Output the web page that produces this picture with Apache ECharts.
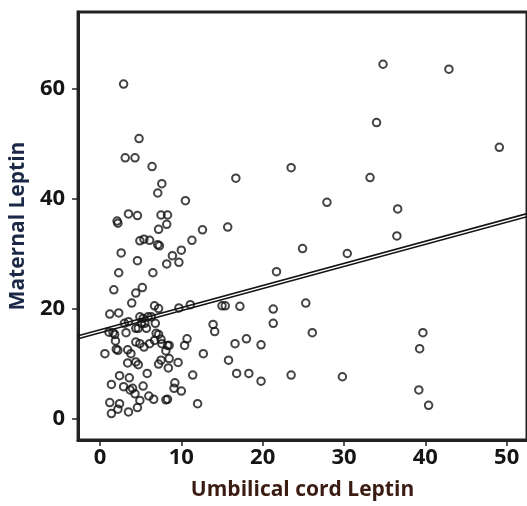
<!DOCTYPE html>
<html>
<head>
<meta charset="utf-8">
<script src="https://cdn.jsdelivr.net/npm/echarts@6/dist/echarts.min.js"></script>
<style>
html,body{margin:0;padding:0;background:#fff;}
#c{width:527px;height:506px;}
</style>
</head>
<body>
<div id="c"></div>
<script>
var umbilical = [34.8,42.9,34.0,49.1,2.9,4.8,3.1,4.3,6.4,23.5,16.7,33.2,7.6,7.1,10.5,27.9,36.6,3.5,4.6,7.5,8.3,2.1,2.2,8.2,7.2,12.6,15.7,36.5,11.3,4.9,5.4,6.1,7.1,7.3,24.9,30.4,10.0,8.9,2.6,9.7,8.2,4.6,6.5,2.3,21.7,1.7,5.2,4.4,3.9,6.7,7.2,9.7,11.1,15.0,15.4,17.2,21.3,25.3,1.2,2.3,21.3,13.9,14.1,26.1,39.7,39.3,16.6,18.0,19.8,12.7,15.8,11.4,16.8,18.3,19.8,23.5,29.8,39.2,40.4,12.0,10.7,10.4,
0.6,1.4,1.2,1.4,2.4,2.2,3.5,4.6,4.9,2.4,3.6,2.9,3.7,4.0,4.3,5.3,5.8,6.0,6.6,8.1,8.3,9.2,9.1,10.0,7.2,7.5,8.4,8.5,9.6,4.4,4.7,3.4,3.8,3.4,2.0,2.2,1.9,1.8,1.6,1.1,3.2,3.0,3.5,4.4,4.7,4.4,4.9,5.4,4.9,5.3,5.9,6.3,5.1,5.5,5.7,6.1,6.8,6.9,6.7,7.2,7.5,7.6,8.3,8.5,8.1];
var maternal = [64.4,63.5,53.8,49.3,60.8,50.9,47.4,47.4,45.8,45.6,43.7,43.8,42.7,41.0,39.6,39.3,38.1,37.2,36.9,37.0,37.0,35.9,35.5,35.3,34.4,34.3,34.8,33.2,32.4,32.3,32.6,32.4,31.6,31.4,30.9,30.0,30.6,29.6,30.1,28.4,28.1,28.7,26.5,26.5,26.7,23.4,23.8,22.8,21.0,20.5,20.0,20.1,20.7,20.5,20.5,20.4,19.9,21.0,19.0,19.2,17.3,17.1,15.8,15.6,15.6,12.7,13.6,14.5,13.4,11.8,10.6,7.9,8.2,8.2,6.8,7.9,7.6,5.2,2.4,2.7,14.5,13.3,
11.8,6.2,2.9,0.9,2.7,1.7,1.2,2.0,3.3,7.8,7.4,5.8,5.2,5.5,4.5,5.9,8.2,4.1,3.5,3.4,3.5,6.5,5.5,5.0,9.9,10.6,9.2,10.9,10.2,10.3,9.8,10.1,11.8,12.5,12.6,12.4,14.1,15.3,15.6,15.7,15.6,17.3,17.6,16.4,16.4,13.9,13.6,13.0,18.5,18.2,18.5,18.5,17.3,17.3,16.4,13.6,17.3,15.5,14.2,15.3,14.4,13.6,13.3,13.3,12.3];
var fitX = [-2.7, 52.5];
var fitYLower = [14.5, 36.7];
var fitYUpper = [15.05, 37.25];
var xTicks = [0, 10, 20, 30, 40, 50];
var yTicks = [0, 20, 40, 60];
var xName = 'Umbilical cord Leptin';
var yName = 'Maternal Leptin';

var points = umbilical.map(function (x, i) { return [x, maternal[i]]; });
var lineA = fitX.map(function (x, i) { return [x, fitYLower[i]]; });
var lineB = fitX.map(function (x, i) { return [x, fitYUpper[i]]; });

var chart = echarts.init(document.getElementById('c'), null, {renderer: 'canvas'});
var labelFont = {fontSize: 22, fontFamily: 'Open Sans', fontWeight: 'bold', color: '#151515'};
chart.setOption({
  animation: false,
  backgroundColor: '#fff',
  grid: {left: 77, top: 12, right: 0, bottom: 62.5, show: true, borderColor: '#222', borderWidth: 3, backgroundColor: '#fff'},
  xAxis: {
    type: 'value', min: -2.7, max: 52.5,
    name: xName, nameLocation: 'middle', nameGap: 40,
    nameTextStyle: {fontSize: 21, fontFamily: 'Open Sans', fontWeight: 'bold', color: '#3a1c12'},
    axisLine: {show: true, onZero: false, lineStyle: {color: '#222', width: 3}},
    axisTick: {show: true, length: 6, customValues: xTicks, lineStyle: {color: '#222', width: 1.5}},
    axisLabel: Object.assign({customValues: xTicks, margin: 7}, labelFont),
    splitLine: {show: false}
  },
  yAxis: {
    type: 'value', min: -3.9, max: 73.9,
    name: yName, nameLocation: 'middle', nameGap: 48, nameRotate: 90,
    nameTextStyle: {fontSize: 21, fontFamily: 'Open Sans', fontWeight: 'bold', color: '#1b2846'},
    axisLine: {show: true, onZero: false, lineStyle: {color: '#222', width: 3}},
    axisTick: {show: true, length: 6, customValues: yTicks, lineStyle: {color: '#222', width: 1.5}},
    axisLabel: Object.assign({customValues: yTicks, margin: 13}, labelFont),
    splitLine: {show: false}
  },
  series: [
    {
      type: 'scatter', data: points, symbol: 'circle', symbolSize: 7.5,
      itemStyle: {color: 'rgba(255,255,255,0)', borderColor: '#141414', borderWidth: 2},
      z: 3
    },
    {
      type: 'line', data: lineA, symbol: 'none', lineStyle: {color: '#141414', width: 1.6}, z: 4
    },
    {
      type: 'line', data: lineB, symbol: 'none', lineStyle: {color: '#141414', width: 1.6}, z: 4
    }
  ]
});
</script>
</body>
</html>
